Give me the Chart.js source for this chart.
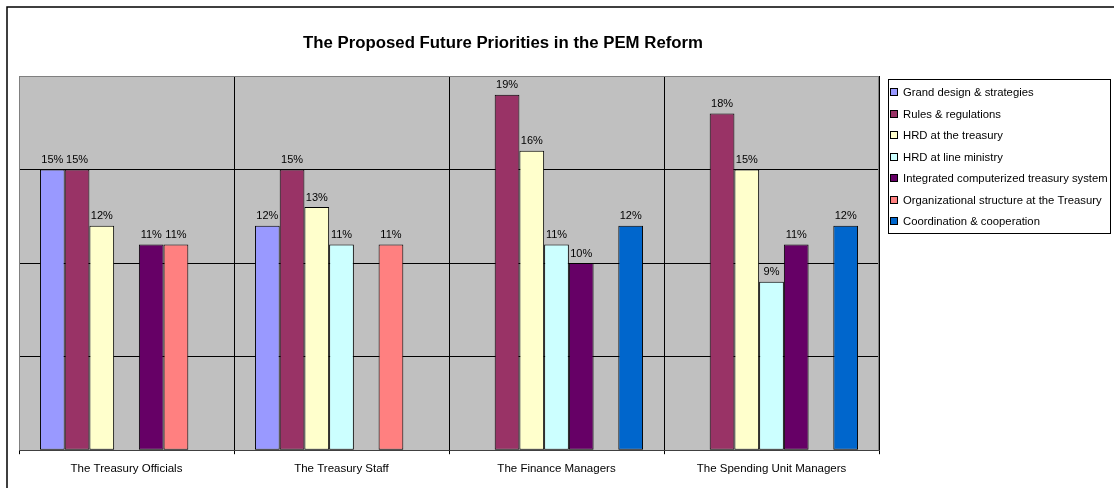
<!DOCTYPE html>
<html>
<head>
<meta charset="utf-8">
<title>PEM Reform priorities</title>
<script src="https://cdn.jsdelivr.net/npm/chart.js@4.4.1/dist/chart.umd.min.js"></script>
<style>
  html, body { margin: 0; padding: 0; background: #fff; }
  #chart { display: block; }
</style>
</head>
<body>
<canvas id="chart" width="1114" height="488"></canvas>
<script>
const categories = ['The Treasury Officials', 'The Treasury Staff', 'The Finance Managers', 'The Spending Unit Managers'];

const grandDesign      = [15, 12, null, null];
const rulesRegs        = [15, 15, 19, 18];
const hrdTreasury      = [12, 13, 16, 15];
const hrdLineMinistry  = [null, 11, 11, 9];
const integratedSystem = [11, null, 10, 11];
const orgStructure     = [11, 11, null, null];
const coordination     = [null, null, 12, 12];

const seriesNames = [
  'Grand design & strategies',
  'Rules & regulations',
  'HRD at the treasury',
  'HRD at line ministry',
  'Integrated computerized treasury system',
  'Organizational structure at the Treasury',
  'Coordination & cooperation'
];
const seriesColors = ['#9999FF', '#993366', '#FFFFCC', '#CCFFFF', '#660066', '#FF8080', '#0066CC'];
const seriesValues = [grandDesign, rulesRegs, hrdTreasury, hrdLineMinistry, integratedSystem, orgStructure, coordination];

const yMax = 20;
const yStep = 5;

const FONT = "'Liberation Sans', Arial, sans-serif";
const titleText = 'The Proposed Future Priorities in the PEM Reform';

// grey plot area, outer frame and title
const frame = {
  id: 'frame',
  beforeDraw(chart) {
    const { ctx, chartArea: a } = chart;
    ctx.save();
    ctx.fillStyle = '#C0C0C0';
    ctx.fillRect(a.left, a.top, a.right - a.left, a.bottom - a.top);
    ctx.strokeStyle = '#000';
    ctx.lineWidth = 1.5;
    ctx.beginPath();
    ctx.moveTo(7, chart.height + 2);
    ctx.lineTo(7, 7);
    ctx.lineTo(chart.width + 2, 7);
    ctx.stroke();
    ctx.fillStyle = '#000';
    ctx.font = 'bold 16.8px ' + FONT;
    ctx.textAlign = 'center';
    ctx.textBaseline = 'middle';
    ctx.fillText(titleText, 503, 43);
    ctx.restore();
  },
  afterDraw(chart) {
    const { ctx, chartArea: a } = chart;
    ctx.save();
    ctx.strokeStyle = '#808080';
    ctx.lineWidth = 1;
    ctx.beginPath();
    ctx.moveTo(a.left + 0.5, a.bottom);
    ctx.lineTo(a.left + 0.5, a.top + 0.5);
    ctx.lineTo(a.right - 0.5, a.top + 0.5);
    ctx.lineTo(a.right - 0.5, a.bottom);
    ctx.stroke();
    ctx.restore();
  }
};

// percentage labels above each bar
const valueLabels = {
  id: 'valueLabels',
  afterDatasetsDraw(chart) {
    const { ctx } = chart;
    ctx.save();
    ctx.font = '11px ' + FONT;
    ctx.fillStyle = '#000';
    ctx.textAlign = 'center';
    ctx.textBaseline = 'bottom';
    chart.data.datasets.forEach((ds, i) => {
      chart.getDatasetMeta(i).data.forEach((bar, j) => {
        const v = ds.data[j];
        if (v == null) return;
        ctx.fillText(v + '%', bar.x, bar.y - 4);
      });
    });
    ctx.restore();
  }
};

// boxed legend on the right
const boxLegend = {
  id: 'boxLegend',
  afterDraw(chart) {
    const { ctx } = chart;
    const left = 888, top = 79, right = 1110, bottom = 233;
    const rowH = 21.5, firstY = 92;
    ctx.save();
    ctx.fillStyle = '#fff';
    ctx.fillRect(left, top, right - left, bottom - top);
    ctx.strokeStyle = '#000';
    ctx.lineWidth = 1;
    ctx.strokeRect(left + 0.5, top + 0.5, right - left, bottom - top);
    ctx.font = '11.3px ' + FONT;
    ctx.textBaseline = 'middle';
    ctx.textAlign = 'left';
    chart.data.datasets.forEach((ds, i) => {
      const y = Math.round(firstY + i * rowH);
      ctx.fillStyle = ds.backgroundColor;
      ctx.fillRect(890, y - 4, 8, 8);
      ctx.strokeStyle = '#000';
      ctx.strokeRect(890.5, y - 3.5, 7, 7);
      ctx.fillStyle = '#000';
      ctx.fillText(ds.label, 903, y + 0.5);
    });
    ctx.restore();
  }
};

new Chart(document.getElementById('chart'), {
  type: 'bar',
  data: {
    labels: categories,
    datasets: seriesNames.map((name, i) => ({
      label: name,
      data: seriesValues[i],
      backgroundColor: seriesColors[i],
      borderColor: '#000',
      borderWidth: 1,
      borderSkipped: false,
      categoryPercentage: 0.805,
      barPercentage: 1.0
    }))
  },
  options: {
    responsive: false,
    animation: false,
    layout: { padding: { top: 76, left: 19, right: 235, bottom: 4 } },
    plugins: {
      legend: { display: false },
      title: { display: false },
      tooltip: { enabled: false }
    },
    scales: {
      x: {
        offset: true,
        grid: {
          offset: true,
          color: '#000',
          lineWidth: 1,
          tickLength: 4,
          drawOnChartArea: true
        },
        border: { display: true, color: '#404040', width: 1 },
        ticks: {
          color: '#000',
          padding: 8,
          maxRotation: 0,
          font: { family: FONT, size: 11.5 }
        }
      },
      y: {
        min: 0,
        max: yMax,
        ticks: { display: false, stepSize: yStep },
        grid: {
          drawTicks: false,
          color: (c) => (c.tick && c.tick.value === yMax ? '#808080' : '#000'),
          lineWidth: 1
        },
        border: { display: false }
      }
    }
  },
  plugins: [frame, valueLabels, boxLegend]
});
</script>
</body>
</html>
